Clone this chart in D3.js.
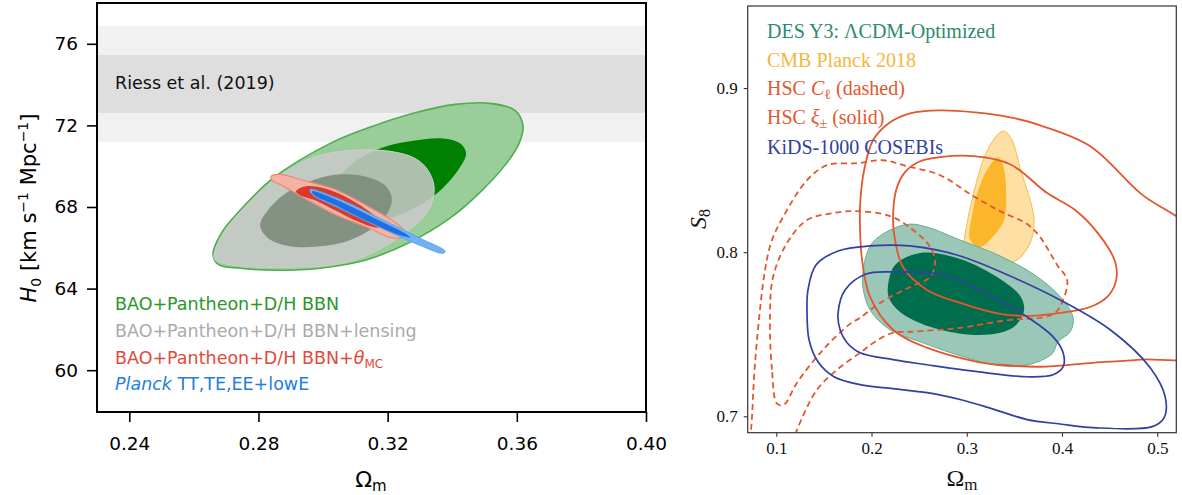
<!DOCTYPE html>
<html>
<head>
<meta charset="utf-8">
<script src="https://cdn.jsdelivr.net/npm/d3@7"></script>
<style>
  body { margin: 0; background: #fff; }
  svg { display: block; }
</style>
</head>
<body>
<svg id="chart" width="1182" height="495"></svg>
<script>
// ── Left panel: H0 vs Omega_m ─────────────────
const leftXTicks = [0.24, 0.28, 0.32, 0.36, 0.40];
const leftYTicks = [60, 64, 68, 72, 76];
const riessOuter = [71.19, 76.87];   // 2 sigma
const riessInner = [72.61, 75.45];   // 1 sigma

const greenOuter = [[0.2659,65.68],[0.2687,66.77],[0.2743,67.84],[0.2845,69.41],[0.3022,71.12],[0.3161,72.0],[0.3291,72.64],[0.3409,73.03],[0.3517,73.08],[0.3594,72.74],[0.3619,72.0],[0.3607,71.12],[0.3563,70.04],[0.3486,68.72],[0.3393,67.45],[0.3269,66.27],[0.3130,65.39],[0.2991,65.00],[0.2851,64.90],[0.2743,65.00],[0.2675,65.19]];
const greenInner = [[0.3022,68.82],[0.3083,70.04],[0.3176,70.87],[0.3269,71.22],[0.3371,71.36],[0.3424,71.12],[0.3443,70.63],[0.3418,69.80],[0.3353,68.67],[0.3269,67.84],[0.3176,67.35],[0.3083,67.25],[0.3028,67.84]];
const grayOuter = [[0.2662,65.53],[0.2687,66.61],[0.2743,67.74],[0.2805,68.72],[0.2867,69.55],[0.2969,70.43],[0.3083,70.77],[0.3207,70.73],[0.3285,70.38],[0.3325,69.80],[0.3344,68.96],[0.3331,67.98],[0.3285,67.10],[0.3207,66.22],[0.3114,65.49],[0.3022,65.15],[0.2913,65.05],[0.2805,65.05],[0.2718,65.15],[0.2672,65.34]];
const grayInner = [[0.2805,67.10],[0.2836,67.98],[0.2898,68.82],[0.2975,69.35],[0.3052,69.60],[0.3130,69.50],[0.3192,69.06],[0.3213,68.42],[0.3201,67.74],[0.3161,67.05],[0.3083,66.37],[0.2991,66.07],[0.2898,66.07],[0.2830,66.47]];
const redOuter = [[0.2839,69.50],[0.2867,69.60],[0.2938,69.31],[0.3043,68.82],[0.3145,67.98],[0.3223,67.25],[0.3254,66.76],[0.3244,66.51],[0.3207,66.51],[0.3145,66.95],[0.3043,67.59],[0.2938,68.47],[0.2873,69.06],[0.2842,69.31]];
const redInner = [[0.2916,68.77],[0.2944,69.01],[0.3006,68.91],[0.3068,68.52],[0.3130,67.93],[0.3176,67.35],[0.3186,67.05],[0.3161,67.00],[0.3099,67.35],[0.3037,67.84],[0.2975,68.33],[0.2929,68.57]];
const blueOuter = [[0.2960,68.86],[0.3052,68.38],[0.3176,67.44],[0.3300,66.47],[0.3378,65.83],[0.3371,65.73],[0.3300,66.12],[0.3176,67.00],[0.3052,67.93],[0.2966,68.62]];
const blueInner = [[0.2966,68.77],[0.3052,68.28],[0.3161,67.44],[0.3254,66.71],[0.3269,66.51],[0.3238,66.61],[0.3145,67.25],[0.3052,67.98],[0.2969,68.62]];

// ── Right panel: S8 vs Omega_m ────────────────
const rightXTicks = [0.1, 0.2, 0.3, 0.4, 0.5];
const rightYTicks = [0.7, 0.8, 0.9];

const desOuter = [[0.1932,0.7953],[0.2006,0.8056],[0.2195,0.8135],[0.2405,0.8171],[0.2615,0.8147],[0.2930,0.8074],[0.3350,0.7977],[0.3728,0.7855],[0.4002,0.7715],[0.4117,0.7600],[0.4086,0.7515],[0.3959,0.7454],[0.3896,0.7381],[0.3644,0.7314],[0.3350,0.7308],[0.2930,0.7369],[0.2510,0.7454],[0.2195,0.7527],[0.1985,0.7648],[0.1911,0.7782],[0.1911,0.7880]];
const desInner = [[0.2174,0.7800],[0.2247,0.7922],[0.2510,0.7995],[0.2930,0.7959],[0.3350,0.7837],[0.3560,0.7734],[0.3602,0.7648],[0.3508,0.7551],[0.3350,0.7509],[0.3035,0.7497],[0.2615,0.7545],[0.2300,0.7636],[0.2184,0.7721]];
const cmbOuter = [[0.3319,0.8712],[0.3392,0.8737],[0.3476,0.8682],[0.3560,0.8512],[0.3665,0.8318],[0.3707,0.8196],[0.3665,0.8056],[0.3529,0.7953],[0.3298,0.7904],[0.3119,0.7873],[0.2993,0.7892],[0.2961,0.7983],[0.2982,0.8105],[0.3067,0.8348],[0.3193,0.8591]];
const cmbInner = [[0.3329,0.8579],[0.3382,0.8530],[0.3413,0.8378],[0.3392,0.8196],[0.3298,0.8111],[0.3140,0.8032],[0.3035,0.8074],[0.3056,0.8226],[0.3119,0.8378],[0.3224,0.8512]];
const hscXiOuter = [[0.1880,0.8287],[0.1922,0.8499],[0.2016,0.8682],[0.2195,0.8791],[0.2405,0.8846],[0.2720,0.8864],[0.3088,0.8852],[0.3455,0.8822],[0.3770,0.8773],[0.4296,0.8646],[0.4821,0.8360],[0.5451,0.8074],[0.5451,0.7387],[0.4821,0.7345],[0.4327,0.7326],[0.3770,0.7302],[0.3350,0.7314],[0.3109,0.7332],[0.2583,0.7418],[0.2226,0.7527],[0.1985,0.7727],[0.1901,0.7953],[0.1880,0.8135]];
const hscXiInner = [[0.2226,0.8196],[0.2258,0.8378],[0.2352,0.8488],[0.2510,0.8554],[0.2720,0.8579],[0.3067,0.8585],[0.3455,0.8536],[0.3844,0.8360],[0.4138,0.8257],[0.4401,0.8098],[0.4558,0.7941],[0.4569,0.7831],[0.4485,0.7734],[0.4296,0.7666],[0.3980,0.7630],[0.3665,0.7612],[0.3350,0.7624],[0.2930,0.7691],[0.2583,0.7770],[0.2331,0.7910],[0.2247,0.8074]];
const hscClOuter = [[0.0703,0.6798],[0.0735,0.6919],[0.0777,0.7326],[0.0882,0.7892],[0.0955,0.8074],[0.1071,0.8214],[0.1323,0.8439],[0.1533,0.8530],[0.1848,0.8542],[0.2121,0.8560],[0.2373,0.8524],[0.2720,0.8469],[0.3067,0.8342],[0.3350,0.8250],[0.3634,0.8171],[0.3770,0.8092],[0.3949,0.7922],[0.4054,0.7831],[0.4012,0.7709],[0.3928,0.7630],[0.3770,0.7600],[0.3455,0.7588],[0.2930,0.7539],[0.2405,0.7515],[0.2226,0.7509],[0.2037,0.7454],[0.1880,0.7387],[0.1638,0.7284],[0.1428,0.7162],[0.1218,0.6919],[0.1144,0.6798]];
const hscClInner = [[0.1008,0.7077],[0.0955,0.7284],[0.0934,0.7606],[0.0966,0.7849],[0.1113,0.8056],[0.1323,0.8196],[0.1596,0.8238],[0.1848,0.8250],[0.2195,0.8220],[0.2436,0.8135],[0.2615,0.8032],[0.2667,0.7934],[0.2615,0.7849],[0.2405,0.7788],[0.2090,0.7691],[0.1880,0.7600],[0.1775,0.7563],[0.1491,0.7405],[0.1218,0.7205],[0.1081,0.7071]];
const kidsOuter = [[0.1323,0.7630],[0.1333,0.7770],[0.1417,0.7922],[0.1649,0.8007],[0.1985,0.8038],[0.2405,0.8038],[0.2930,0.7977],[0.3455,0.7855],[0.3980,0.7709],[0.4506,0.7527],[0.4926,0.7296],[0.5083,0.7120],[0.5073,0.6992],[0.4947,0.6937],[0.4327,0.6931],[0.3980,0.6953],[0.3634,0.6980],[0.3277,0.7044],[0.2930,0.7102],[0.2583,0.7144],[0.2226,0.7168],[0.1880,0.7193],[0.1606,0.7241],[0.1438,0.7332],[0.1344,0.7466]];
const kidsInner = [[0.1649,0.7630],[0.1722,0.7770],[0.1943,0.7867],[0.2226,0.7880],[0.2751,0.7861],[0.3277,0.7727],[0.3634,0.7606],[0.3907,0.7484],[0.4012,0.7387],[0.4012,0.7302],[0.3907,0.7253],[0.3634,0.7241],[0.3109,0.7272],[0.2583,0.7314],[0.2226,0.7345],[0.1880,0.7387],[0.1743,0.7448],[0.1670,0.7527]];

const svg = d3.select('#chart');
const SANS = 'DejaVu Sans', SERIF = 'Liberation Serif';

function closedPath(x, y) {
  return d3.line().x(d => x(d[0])).y(d => y(d[1])).curve(d3.curveCatmullRomClosed.alpha(0.5));
}
function openPath(x, y) {
  return d3.line().x(d => x(d[0])).y(d => y(d[1])).curve(d3.curveCatmullRom.alpha(0.5));
}

// ═════ LEFT PANEL ═════
const L = { x0: 97, x1: 646, y0: 3, y1: 412 };
const xL = d3.scaleLinear().domain([0.23, 0.40]).range([L.x0, L.x1]);
const yL = d3.scaleLinear().domain([57.95, 78.0]).range([L.y1, L.y0]);

svg.append('clipPath').attr('id', 'clipL').append('rect')
  .attr('x', L.x0).attr('y', L.y0).attr('width', L.x1 - L.x0).attr('height', L.y1 - L.y0);
const gL = svg.append('g').attr('clip-path', 'url(#clipL)');

[[riessOuter, '#f1f1f1'], [riessInner, '#dedede']].forEach(([b, c]) => {
  gL.append('rect').attr('x', L.x0).attr('width', L.x1 - L.x0)
    .attr('y', yL(b[1])).attr('height', yL(b[0]) - yL(b[1])).attr('fill', c);
});

const pL = closedPath(xL, yL);
gL.append('path').attr('d', pL(greenOuter)).attr('fill', '#99cd99').attr('stroke', '#4fae4f').attr('stroke-width', 1.6);
gL.append('path').attr('d', pL(greenInner)).attr('fill', '#008000');
gL.append('path').attr('d', pL(grayOuter)).attr('fill', 'rgb(202,202,202)').attr('fill-opacity', 0.86).attr('stroke', '#cfcfcf').attr('stroke-width', 1);
gL.append('path').attr('d', pL(grayInner)).attr('fill', 'rgb(120,136,120)').attr('fill-opacity', 0.85);
gL.append('path').attr('d', pL(redOuter)).attr('fill', '#f4b3a3').attr('stroke', '#eb8a78').attr('stroke-width', 1.2);
gL.append('path').attr('d', pL(redInner)).attr('fill', '#d9392b');
gL.append('path').attr('d', pL(blueOuter)).attr('fill', '#72b2f2').attr('stroke', '#5aa5f0').attr('stroke-width', 1);
gL.append('path').attr('d', pL(blueInner)).attr('fill', '#1f6fe3');

gL.append('text').attr('x', 115).attr('y', 89).attr('font-family', SANS).attr('font-size', 17.5)
  .attr('fill', '#111').text('Riess et al. (2019)');

// legend
const legL = [
  { y: 310, color: '#2a962a', parts: [['BAO+Pantheon+D/H BBN']] },
  { y: 337, color: '#aaaaaa', parts: [['BAO+Pantheon+D/H BBN+lensing']] },
  { y: 363.5, color: '#e04a3c', parts: [['BAO+Pantheon+D/H BBN+'], ['θ', 'it'], ['MC', 'sub']] },
  { y: 390, color: '#1f7ee0', parts: [['Planck', 'it'], [' TT,TE,EE+lowE']] }
];
legL.forEach(l => {
  const t = svg.append('text').attr('x', 115).attr('y', l.y).attr('font-family', SANS)
    .attr('font-size', 17.5).attr('fill', l.color);
  l.parts.forEach(([s, k]) => {
    const ts = t.append('tspan').text(s);
    if (k === 'it') ts.attr('font-style', 'italic');
    if (k === 'sub') ts.attr('font-size', 12).attr('dy', 4);
  });
});

// axes
const axL = svg.append('g').attr('transform', `translate(0,${L.y1})`)
  .call(d3.axisBottom(xL).tickValues(leftXTicks).tickFormat(d3.format('.2f')).tickSize(10).tickPadding(15));
const ayL = svg.append('g').attr('transform', `translate(${L.x0},0)`)
  .call(d3.axisLeft(yL).tickValues(leftYTicks).tickSize(10).tickPadding(9));
[axL, ayL].forEach(a => {
  a.select('.domain').remove();
  a.selectAll('line').attr('stroke', '#000').attr('stroke-width', 1.6);
  a.selectAll('text').attr('font-family', SANS).attr('font-size', 18.5).attr('fill', '#000');
});
svg.append('rect').attr('x', L.x0).attr('y', L.y0).attr('width', L.x1 - L.x0).attr('height', L.y1 - L.y0)
  .attr('fill', 'none').attr('stroke', '#000').attr('stroke-width', 2);

const xlabL = svg.append('text').attr('x', 371).attr('y', 487).attr('text-anchor', 'middle')
  .attr('font-family', SANS).attr('font-size', 22).attr('fill', '#000');
xlabL.append('tspan').text('Ω');
xlabL.append('tspan').text('m').attr('font-size', 15).attr('dy', 4);

const ylabL = svg.append('text').attr('transform', 'translate(36,208) rotate(-90)').attr('text-anchor', 'middle')
  .attr('font-family', SANS).attr('font-size', 21).attr('fill', '#000');
ylabL.append('tspan').text('H').attr('font-style', 'italic');
ylabL.append('tspan').text('0').attr('font-size', 14).attr('dy', 5);
ylabL.append('tspan').text(' [km s').attr('dy', -5);
ylabL.append('tspan').text('−1').attr('font-size', 14).attr('dy', -8);
ylabL.append('tspan').text(' Mpc').attr('dy', 8);
ylabL.append('tspan').text('−1').attr('font-size', 14).attr('dy', -8);
ylabL.append('tspan').text(']').attr('dy', 8);

// ═════ RIGHT PANEL ═════
const R = { x0: 747.7, x1: 1176.3, y0: 6, y1: 432.7 };
const xR = d3.scaleLinear().domain([0.07, 0.52]).range([R.x0, R.x1]);
const yR = d3.scaleLinear().domain([0.69, 0.95]).range([R.y1, R.y0]);

svg.append('clipPath').attr('id', 'clipR').append('rect')
  .attr('x', R.x0).attr('y', R.y0).attr('width', R.x1 - R.x0).attr('height', R.y1 - R.y0);
const gR = svg.append('g').attr('clip-path', 'url(#clipR)');
const pR = closedPath(xR, yR), oR = openPath(xR, yR);

gR.append('path').attr('d', pR(cmbOuter)).attr('fill', '#fee0a4').attr('stroke', '#f5c65e').attr('stroke-width', 1.2);
gR.append('path').attr('d', pR(cmbInner)).attr('fill', '#fbb62c');
gR.append('path').attr('d', pR(desOuter)).attr('fill', '#92c3b2').attr('fill-opacity', 0.93).attr('stroke', '#6aab96').attr('stroke-width', 1);
gR.append('path').attr('d', pR(desInner)).attr('fill', '#006d4d');

const red = '#e3572f', blue = '#3240a2';
gR.append('path').attr('d', oR(hscClOuter)).attr('fill', 'none').attr('stroke', red).attr('stroke-width', 1.8).attr('stroke-dasharray', '6,4');
gR.append('path').attr('d', pR(hscClInner)).attr('fill', 'none').attr('stroke', red).attr('stroke-width', 1.8).attr('stroke-dasharray', '6,4');
gR.append('path').attr('d', pR(hscXiOuter)).attr('fill', 'none').attr('stroke', red).attr('stroke-width', 1.8);
gR.append('path').attr('d', pR(hscXiInner)).attr('fill', 'none').attr('stroke', red).attr('stroke-width', 1.8);
gR.append('path').attr('d', pR(kidsOuter)).attr('fill', 'none').attr('stroke', blue).attr('stroke-width', 1.7);
gR.append('path').attr('d', pR(kidsInner)).attr('fill', 'none').attr('stroke', blue).attr('stroke-width', 1.7);

const legR = [
  { y: 38, color: '#2d8a70', parts: [['DES Y3: ΛCDM-Optimized']] },
  { y: 66.5, color: '#f4b73e', parts: [['CMB Planck 2018']] },
  { y: 95, color: red, parts: [['HSC '], ['C', 'it'], ['ℓ', 'sub'], [' (dashed)', 'up']] },
  { y: 123.5, color: red, parts: [['HSC '], ['ξ', 'it'], ['±', 'sub'], [' (solid)', 'up']] },
  { y: 154, color: blue, parts: [['KiDS-1000 COSEBIs']] }
];
legR.forEach(l => {
  const t = svg.append('text').attr('x', 767).attr('y', l.y).attr('font-family', SERIF)
    .attr('font-size', 20).attr('fill', l.color);
  l.parts.forEach(([s, k]) => {
    const ts = t.append('tspan').text(s);
    if (k === 'it') ts.attr('font-style', 'italic');
    if (k === 'sub') ts.attr('font-size', 14).attr('dy', 4);
    if (k === 'up') ts.attr('dy', -4);
  });
});

const axR = svg.append('g').attr('transform', `translate(0,${R.y1})`)
  .call(d3.axisBottom(xR).tickValues(rightXTicks).tickFormat(d3.format('.1f')).tickSize(4).tickPadding(5));
const ayR = svg.append('g').attr('transform', `translate(${R.x0},0)`)
  .call(d3.axisLeft(yR).tickValues(rightYTicks).tickFormat(d3.format('.1f')).tickSize(4).tickPadding(6));
[axR, ayR].forEach(a => {
  a.select('.domain').remove();
  a.selectAll('line').attr('stroke', '#333').attr('stroke-width', 1.1);
  a.selectAll('text').attr('font-family', SERIF).attr('font-size', 17).attr('fill', '#111');
});
svg.append('rect').attr('x', R.x0).attr('y', R.y0).attr('width', R.x1 - R.x0).attr('height', R.y1 - R.y0)
  .attr('fill', 'none').attr('stroke', '#333').attr('stroke-width', 1.2);

const xlabR = svg.append('text').attr('x', 962).attr('y', 486).attr('text-anchor', 'middle')
  .attr('font-family', SERIF).attr('font-size', 24).attr('fill', '#111');
xlabR.append('tspan').text('Ω');
xlabR.append('tspan').text('m').attr('font-size', 17).attr('dy', 4);

const ylabR = svg.append('text').attr('transform', 'translate(706,219) rotate(-90)').attr('text-anchor', 'middle')
  .attr('font-family', SERIF).attr('font-size', 24).attr('fill', '#111');
ylabR.append('tspan').text('S').attr('font-style', 'italic');
ylabR.append('tspan').text('8').attr('font-size', 16).attr('dy', 4);
</script>
</body>
</html>
